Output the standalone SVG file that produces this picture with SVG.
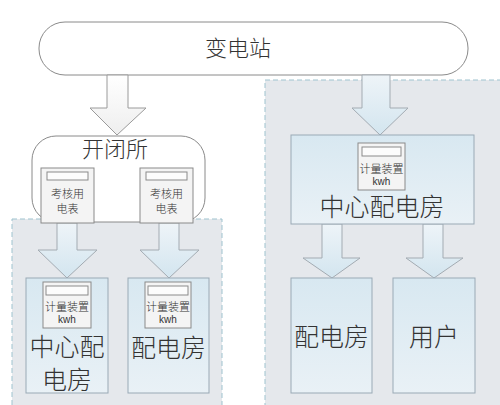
<svg xmlns="http://www.w3.org/2000/svg" width="500" height="405" viewBox="0 0 500 405">
<defs>
<linearGradient id="boxg" x1="0" y1="0" x2="0" y2="1">
<stop offset="0" stop-color="#d8e8f1"/>
<stop offset="1" stop-color="#e9f1f6"/>
</linearGradient>
<linearGradient id="arrg" x1="0" y1="0" x2="0" y2="1">
<stop offset="0" stop-color="#eef4f8"/>
<stop offset="1" stop-color="#d3e5ef"/>
</linearGradient>
<linearGradient id="arrw" x1="0" y1="0" x2="0" y2="1">
<stop offset="0" stop-color="#ffffff"/>
<stop offset="1" stop-color="#eeeeee"/>
</linearGradient>
<style>
text{font-family:"Noto Sans CJK SC","Liberation Sans",sans-serif;fill:#333;text-anchor:middle;font-weight:300}
.region{fill:#e5e8ec;stroke:#9fc3cf;stroke-width:1;stroke-dasharray:5,3}
.box{fill:url(#boxg);stroke:#9aa9b5;stroke-width:1}
.meter{fill:#f4f4f4;stroke:#8a8a8a;stroke-width:1}
.mbar{fill:#fcfcfc;stroke:#8a8a8a;stroke-width:1}
.arrow{fill:url(#arrg);stroke:#a3abb2;stroke-width:1}
.arroww{fill:url(#arrw);stroke:#9a9a9a;stroke-width:1}
.round{fill:#ffffff;stroke:#8a8a8a;stroke-width:1}
.big{font-size:25px}
.sm{font-size:11px}
.kwh{font-size:10px;font-family:"Liberation Sans",sans-serif;font-weight:400}
</style>
</defs>
<rect width="500" height="405" fill="#ffffff"/>
<g id="regions">
<rect class="region" x="12" y="219" width="210" height="195"/>
<rect class="region" x="265" y="80" width="245" height="335"/>
</g>
<g id="substation">
<rect class="round" x="39" y="22" width="429" height="53" rx="26" ry="26"/>
<text x="238" y="56" style="font-size:22px">变电站</text>
</g>
<g id="kaibisuo">
<rect class="round" x="32" y="136" width="173" height="86" rx="24" ry="24"/>
<text x="115" y="157" style="font-size:22px">开闭所</text>
</g>
<g id="connectors">
<polygon class="arroww" points="107,75 128,75 128,108 146,108 117,135 90,108 107,108"/>
<polygon class="arrow" points="362,75 390,75 390,108 408,108 380,135 352,108 362,108"/>
<polygon class="arrow" points="57,223 77,223 77,250 97,250 67,278 38,250 57,250"/>
<polygon class="arrow" points="159,223 179,223 179,250 199,250 169,278 140,250 159,250"/>
<polygon class="arrow" points="322,224 342,224 342,258 360,258 332,278 303,258 322,258"/>
<polygon class="arrow" points="423,224 443,224 443,258 463,258 434,278 406,258 423,258"/>
</g>
<g id="meter-check-1">
<rect class="meter" x="41" y="168" width="53" height="55"/>
<rect class="mbar" x="47" y="172" width="41" height="8"/>
<text class="sm" x="67.5" y="198">考核用</text>
<text class="sm" x="67.5" y="213">电表</text>
</g>
<g id="meter-check-2">
<rect class="meter" x="140" y="168" width="53" height="55"/>
<rect class="mbar" x="146" y="172" width="41" height="8"/>
<text class="sm" x="166.5" y="198">考核用</text>
<text class="sm" x="166.5" y="213">电表</text>
</g>
<g id="center-room-right">
<rect class="box" x="291" y="135" width="183" height="89"/>
<rect class="meter" x="358" y="143" width="47" height="47"/>
<rect class="mbar" x="362" y="147" width="39" height="9"/>
<text class="sm" x="381.5" y="173">计量装置</text>
<text class="kwh" x="381.5" y="185">kwh</text>
<text class="big" x="382" y="216">中心配电房</text>
</g>
<g id="room-right">
<rect class="box" x="291" y="278" width="81" height="115"/>
<text class="big" x="331.5" y="346">配电房</text>
</g>
<g id="user-right">
<rect class="box" x="393" y="278" width="82" height="115"/>
<text class="big" x="434" y="346">用户</text>
</g>
<g id="center-room-left">
<rect class="box" x="26" y="278" width="82" height="115"/>
<rect class="meter" x="43" y="282" width="48" height="46"/>
<rect class="mbar" x="46" y="286" width="42" height="9"/>
<text class="sm" x="67" y="311">计量装置</text>
<text class="kwh" x="67" y="323">kwh</text>
<text class="big" x="67" y="356">中心配</text>
<text class="big" x="67" y="389">电房</text>
</g>
<g id="room-left">
<rect class="box" x="128" y="278" width="81" height="115"/>
<rect class="meter" x="145" y="282" width="46" height="46"/>
<rect class="mbar" x="148" y="286" width="40" height="9"/>
<text class="sm" x="168" y="311">计量装置</text>
<text class="kwh" x="168" y="323">kwh</text>
<text class="big" x="168.5" y="357">配电房</text>
</g>
</svg>
